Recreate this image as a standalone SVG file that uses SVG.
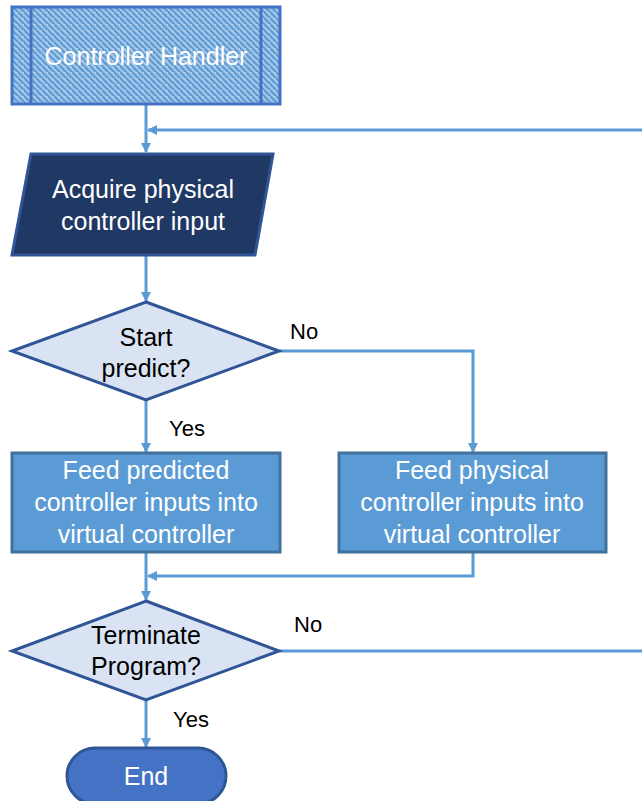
<svg xmlns="http://www.w3.org/2000/svg" width="642" height="801" viewBox="0 0 642 801">
<style>
.conn{fill:none;stroke:#5B9BD5;stroke-width:3}
.w{fill:#FFFFFF;font-family:"Liberation Sans",Arial,sans-serif;font-size:25px;text-anchor:middle}
.b{fill:#000000;font-family:"Liberation Sans",Arial,sans-serif;font-size:25px;text-anchor:middle}
.lbl{fill:#000000;font-family:"Liberation Sans",Arial,sans-serif;font-size:22px}
.dec{fill:#DAE3F3;stroke:#2F5597;stroke-width:3}
.proc{fill:#5B9BD5;stroke:#41719C;stroke-width:3}
</style>
<defs>
<pattern id="hatch" patternUnits="userSpaceOnUse" width="6" height="6">
<rect width="6" height="6" fill="#A7C7E7"/>
<path d="M-1,-1 L7,7 M-4,2 L2,8 M4,-4 L10,2" stroke="#5B9BD5" stroke-width="2.2"/>
</pattern>
<marker id="arr" markerWidth="10" markerHeight="10" refX="9" refY="5" orient="auto" markerUnits="userSpaceOnUse">
<path d="M0,0 L10,5 L0,10 Z" fill="#5B9BD5"/>
</marker>
</defs>
<g id="connectors">
<path class="conn" d="M146,105 V152" marker-end="url(#arr)"/>
<path class="conn" d="M642,130 H148" marker-end="url(#arr)"/>
<path class="conn" d="M146,256 V301" marker-end="url(#arr)"/>
<path class="conn" d="M279,351 H473 V452" marker-end="url(#arr)"/>
<path class="conn" d="M146,400 V452" marker-end="url(#arr)"/>
<path class="conn" d="M146,552 V600" marker-end="url(#arr)"/>
<path class="conn" d="M473,552 V576 H148" marker-end="url(#arr)"/>
<path class="conn" d="M279,651 H642"/>
<path class="conn" d="M146,700 V747" marker-end="url(#arr)"/>
<text class="lbl" x="290" y="339">No</text>
<text class="lbl" x="169" y="436">Yes</text>
<text class="lbl" x="294" y="632">No</text>
<text class="lbl" x="173" y="727">Yes</text>
</g>
<g id="controller-handler">
<rect x="12" y="7" width="268" height="97" fill="url(#hatch)" stroke="#4472C4" stroke-width="3"/>
<line x1="31" y1="7" x2="31" y2="104" stroke="#4472C4" stroke-width="3"/>
<line x1="261" y1="7" x2="261" y2="104" stroke="#4472C4" stroke-width="3"/>
<text class="w" x="146" y="65">Controller Handler</text>
</g>
<g id="acquire">
<polygon points="31,154 273,154 255,255 12,255" fill="#203864" stroke="#2F5597" stroke-width="3"/>
<text class="w" x="143" y="198">Acquire physical</text>
<text class="w" x="143" y="230">controller input</text>
</g>
<g id="start-predict">
<polygon class="dec" points="146,302 279,351 146,400 12,351"/>
<text class="b" x="146" y="346">Start</text>
<text class="b" x="146" y="377">predict?</text>
</g>
<g id="feed-predicted">
<rect class="proc" x="12" y="453" width="268" height="99"/>
<text class="w" x="146" y="479">Feed predicted</text>
<text class="w" x="146" y="511">controller inputs into</text>
<text class="w" x="146" y="543">virtual controller</text>
</g>
<g id="feed-physical">
<rect class="proc" x="339" y="453" width="267" height="99"/>
<text class="w" x="472" y="479">Feed physical</text>
<text class="w" x="472" y="511">controller inputs into</text>
<text class="w" x="472" y="543">virtual controller</text>
</g>
<g id="terminate">
<polygon class="dec" points="146,601 279,651 146,700 12,651"/>
<text class="b" x="146" y="644">Terminate</text>
<text class="b" x="146" y="675">Program?</text>
</g>
<g id="end">
<rect x="67" y="748" width="159" height="56" rx="28" ry="28" fill="#4472C4" stroke="#2F5597" stroke-width="3"/>
<text class="w" x="146" y="785">End</text>
</g>
</svg>
